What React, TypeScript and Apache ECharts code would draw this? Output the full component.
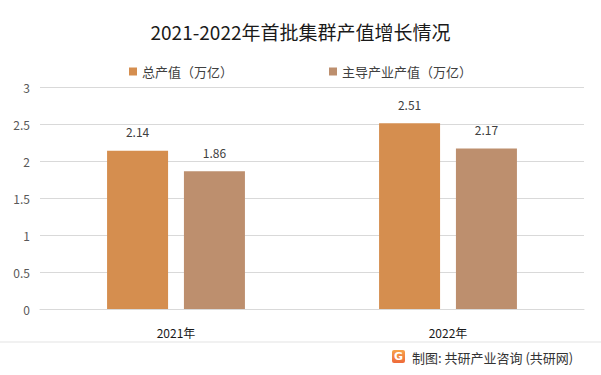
import React, { useEffect, useRef } from "react";
import * as echarts from "echarts";

const categories = ["2021年", "2022年"];
const totalValue = [2.14, 2.51];
const leadingIndustryValue = [1.86, 2.17];
const seriesNames = ["总产值（万亿）", "主导产业产值（万亿）"];
const titleText = "2021-2022年首批集群产值增长情况";
const sourceText = "制图: 共研产业咨询 (共研网)";

const FONT = "'Noto Sans CJK SC', 'Noto Sans', sans-serif";

export default function App() {
  const ref = useRef<HTMLDivElement>(null);
  useEffect(() => {
    const chart = echarts.init(ref.current!, null, { renderer: "svg" });
    const labelStyle = {
      show: true,
      position: "top",
      distance: 13,
      color: "#404040",
      fontSize: 12,
      fontFamily: FONT,
    };
    chart.setOption({
      animation: false,
      backgroundColor: "#ffffff",
      title: {
        text: titleText,
        left: "center",
        top: 17,
        textStyle: { fontSize: 19, fontWeight: "normal", color: "#1a1a1a", fontFamily: FONT },
      },
      legend: {
        top: 60,
        left: "center",
        itemWidth: 8,
        itemHeight: 8,
        itemGap: 96,
        icon: "rect",
        textStyle: { fontSize: 13, color: "#404040", fontFamily: FONT },
        data: seriesNames,
      },
      grid: { left: 40, right: 17, top: 87, bottom: 66, containLabel: false },
      xAxis: {
        type: "category",
        data: categories,
        axisLine: { lineStyle: { color: "#d9d9d9" } },
        axisTick: { show: false },
        axisLabel: { color: "#1a1a1a", fontSize: 12, margin: 17, fontFamily: FONT },
      },
      yAxis: {
        type: "value",
        min: 0,
        max: 3,
        interval: 0.5,
        axisLine: { show: false },
        axisTick: { show: false },
        axisLabel: { color: "#595959", fontSize: 12, margin: 10, fontFamily: FONT },
        splitLine: { lineStyle: { color: "#d9d9d9" } },
      },
      series: [
        {
          name: seriesNames[0],
          type: "bar",
          data: totalValue,
          barWidth: 61,
          barGap: "26%",
          itemStyle: { color: "#D58E4F" },
          label: labelStyle,
        },
        {
          name: seriesNames[1],
          type: "bar",
          data: leadingIndustryValue,
          barWidth: 61,
          itemStyle: { color: "#BD8F6E" },
          label: labelStyle,
        },
      ],
      graphic: [
        {
          type: "line",
          shape: { x1: 0, y1: 342, x2: 601, y2: 342 },
          style: { stroke: "#e3e3e3", lineWidth: 1 },
        },
        {
          type: "rect",
          shape: { x: 392, y: 350, width: 13, height: 13, r: 2 },
          style: {
            fill: new echarts.graphic.LinearGradient(0, 0, 0, 1, [
              { offset: 0, color: "#F7A24A" },
              { offset: 1, color: "#EE6A3A" },
            ]),
          },
        },
        {
          type: "text",
          x: 398.5,
          y: 356.5,
          style: {
            text: "G",
            fill: "#ffffff",
            fontSize: 11,
            fontWeight: "bold",
            fontFamily: "'DejaVu Sans', sans-serif",
            align: "center",
            verticalAlign: "middle",
          },
        },
        {
          type: "text",
          x: 412,
          y: 357,
          style: {
            text: sourceText,
            fill: "#333333",
            fontSize: 13,
            fontFamily: FONT,
            verticalAlign: "middle",
          },
        },
      ],
    });
    return () => chart.dispose();
  }, []);
  return <div ref={ref} style={{ width: 601, height: 375, position: "absolute", left: 0, top: 0 }} />;
}
